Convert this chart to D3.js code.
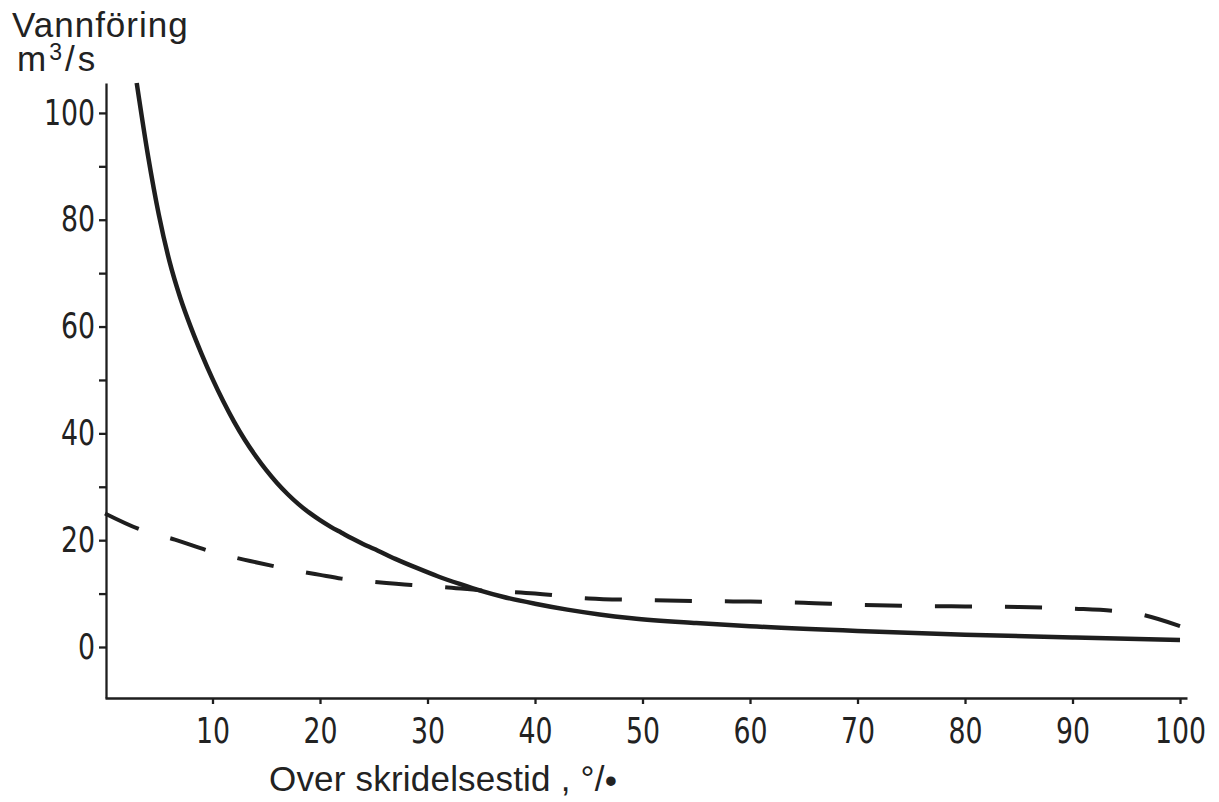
<!DOCTYPE html>
<html>
<head>
<meta charset="utf-8">
<script src="https://cdn.jsdelivr.net/npm/d3@7"></script>
<style>
  body { margin: 0; background: #fff; }
  svg { display: block; }
  .tick text { font-family: "Liberation Sans Narrow", "DejaVu Sans Condensed", sans-serif; font-size: 35px; fill: #222; }
  .lbl { font-family: "Liberation Sans", Arial, sans-serif; font-size: 35px; fill: #222; }
</style>
</head>
<body>
<svg id="canvas"></svg>
<script>
// varighetskurver: overskridelsestid (%) mot vannføring (m3/s)
const solidX = [2.95, 4, 5, 6, 7, 8, 9, 10, 11, 12, 13, 14, 15, 16, 17, 18, 19, 20, 21, 22, 23, 24, 25, 27, 29, 31, 33, 35, 37, 40, 43, 46, 49, 55, 60, 70, 80, 90, 100]
const solidY = [105.6, 92, 81, 72.2, 65.4, 59.8, 54.8, 50.2, 46.0, 42.2, 38.8, 35.8, 33.1, 30.7, 28.6, 26.75, 25.15, 23.75, 22.5, 21.4, 20.3, 19.3, 18.4, 16.5, 14.8, 13.2, 11.8, 10.5, 9.4, 8.1, 7.0, 6.1, 5.4, 4.5, 3.9, 3.0, 2.3, 1.8, 1.3]

const dashX = [0, 3.4, 6.5, 10, 13.5, 17, 20, 22, 25, 28.5, 31, 35, 40, 45, 50, 55, 60, 65, 70, 75, 80, 85, 90, 95.5, 100]
const dashY = [25.0, 21.9, 20.1, 17.8, 16.1, 14.6, 13.5, 12.8, 12.2, 11.6, 11.3, 10.6, 10.0, 9.1, 8.8, 8.6, 8.5, 8.3, 7.9, 7.7, 7.6, 7.5, 7.2, 6.4, 3.9]

const xTicks = [10, 20, 30, 40, 50, 60, 70, 80, 90, 100]
const yTicks = [0, 10, 20, 30, 40, 50, 60, 70, 80, 90, 100]
const yLabelled = [0, 20, 40, 60, 80, 100]

const width = 1219
const height = 802
const ink = '#1e1e1e'
const squeeze = 0.85   // smalere sifre

const svg = d3.select('#canvas')
    .attr('width', width)
    .attr('height', height)

const x = d3.scaleLinear()
    .domain([0, 100.65])
    .range([105, 1187])

const y = d3.scaleLinear()
    .domain([-9.55, 105.6])
    .range([698, 83])

// akser
const xAxis = d3.axisBottom(x)
    .tickValues(xTicks)
    .tickSize(6)
    .tickPadding(14)
    .tickSizeOuter(0)

const yAxis = d3.axisLeft(y)
    .tickValues(yTicks)
    .tickFormat(d => yLabelled.includes(d) ? d : '')
    .tickSize(7)
    .tickPadding(4)
    .tickSizeOuter(0)

const gx = svg.append('g')
    .attr('id', 'x-axis')
    .attr('transform', 'translate(0,' + y.range()[0] + ')')
    .call(xAxis)

const gy = svg.append('g')
    .attr('id', 'y-axis')
    .attr('transform', 'translate(' + (x(0) + 1) + ',0)')
    .call(yAxis)

gx.selectAll('.tick text')
    .attr('transform', 'scale(' + squeeze + ',1)')

gy.selectAll('.tick text')
    .attr('x', -11 / squeeze)
    .attr('transform', 'scale(' + squeeze + ',1)')

svg.selectAll('.domain, .tick line')
    .attr('stroke', ink)
    .attr('stroke-width', 2.3)

// kurver
const line = d3.line()
    .x(d => x(d[0]))
    .y(d => y(d[1]))
    .curve(d3.curveMonotoneX)

svg.append('path')
    .datum(solidX.map((v, i) => [v, solidY[i]]))
    .attr('d', line)
    .attr('fill', 'none')
    .attr('stroke', ink)
    .attr('stroke-width', 4.5)

const dashed = svg.append('path')
    .datum(dashX.map((v, i) => [v, dashY[i]]))
    .attr('d', line)
    .attr('fill', 'none')
    .attr('stroke', ink)
    .attr('stroke-width', 4)

// 16 streker og 15 mellomrom over hele kurven
const len = dashed.node().getTotalLength()
const k = len / (16 * 36 + 15 * 32)
dashed.attr('stroke-dasharray', (36 * k) + ' ' + (32 * k))

// y-tittel i to linjer
const ytitle = svg.append('text')
    .attr('class', 'lbl')
    .attr('x', 12)
    .attr('y', 37)
ytitle.append('tspan')
    .attr('letter-spacing', 1)
    .text('Vannföring')
ytitle.append('tspan')
    .attr('x', 17)
    .attr('y', 71)
    .attr('letter-spacing', 3)
    .text('m')
ytitle.append('tspan')
    .attr('font-size', 23)
    .attr('letter-spacing', 3)
    .attr('dy', -11)
    .text('3')
ytitle.append('tspan')
    .attr('letter-spacing', 3)
    .attr('dy', 11)
    .text('/s')

const xtitle = svg.append('text')
    .attr('class', 'lbl')
    .attr('x', 269)
    .attr('y', 791)
    .attr('letter-spacing', 0.2)
xtitle.append('tspan').text('Over skridelsestid , °/')
xtitle.append('tspan').attr('dy', 2).text('•')
</script>
</body>
</html>
